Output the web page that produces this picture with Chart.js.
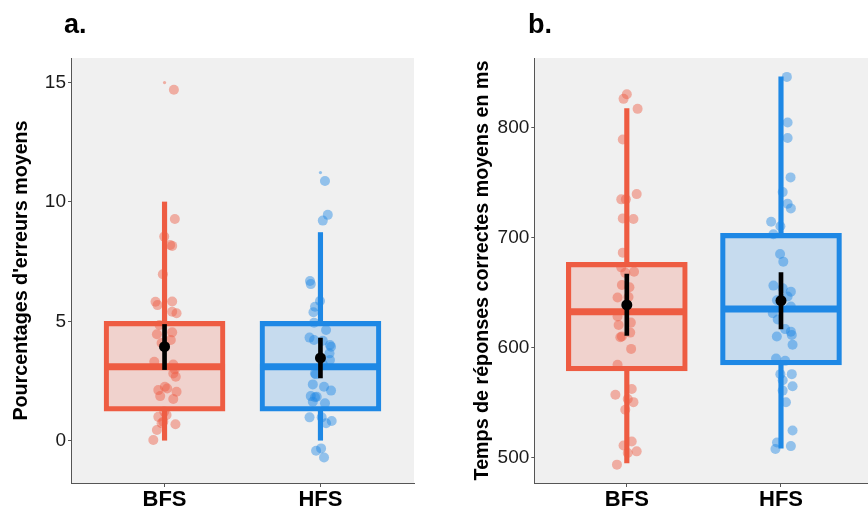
<!DOCTYPE html>
<html><head><meta charset="utf-8">
<script src="https://cdn.jsdelivr.net/npm/chart.js@4.4.1/dist/chart.umd.min.js"></script>
<style>
html,body{margin:0;padding:0;width:868px;height:508px;overflow:hidden;background:#fff;font-family:"Liberation Sans",Arial,sans-serif}
#wa{position:absolute;left:0;top:0;width:430px;height:508px}
#wb{position:absolute;left:430px;top:0;width:449px;height:508px}
.lab{position:absolute;font-weight:bold;font-size:27px;line-height:27px;color:#000}
</style></head><body>
<div id="wa"><canvas id="ca" width="430" height="508"></canvas></div>
<div id="wb"><canvas id="cb" width="449" height="508"></canvas></div>
<div class="lab" style="left:64px;top:11px">a.</div>
<div class="lab" style="left:528px;top:11px">b.</div>
<script>
// ---------- data ----------
const categories = ['BFS', 'HFS'];

// Panel a: Pourcentages d'erreurs moyens
const errTicks = [0, 5, 10, 15];
const errQ1 = [1.24, 1.24];
const errMedian = [3.1, 3.1];
const errQ3 = [5.0, 5.0];
const errWhiskerLow = [0, 0];
const errWhiskerHigh = [10.0, 8.72];
const errMean = [3.94, 3.47];
const errMeanLow = [2.98, 2.63];
const errMeanHigh = [4.87, 4.3];
const errOutliers = [15.0, 11.23];
const errBfs = [14.7,9.29,8.55,8.16,8.2,6.97,5.82,5.68,5.83,5.4,5.34,4.85,4.46,4.54,4.22,4.09,3.31,3.19,2.99,2.82,2.68,2.12,2.26,2.19,2.05,1.87,1.75,1.22,1.08,1.0,0.8,0.73,0.69,0.45,0.03];
const errBfsJitter = [0.060,0.066,-0.002,0.049,0.036,-0.011,-0.058,-0.045,0.049,0.049,0.077,-0.032,-0.049,0.049,0.040,-0.019,-0.066,0.056,0.066,0.056,0.072,-0.040,0.002,0.017,0.077,-0.028,0.056,-0.002,0.013,-0.040,-0.008,-0.019,0.070,-0.049,-0.072];
const errHfs = [10.88,9.46,9.22,6.69,6.56,5.85,5.61,5.38,4.94,4.64,4.32,4.22,4.19,4.01,3.94,3.66,3.38,3.2,2.82,2.78,2.36,2.26,2.1,1.87,1.84,1.82,1.63,1.57,0.98,0.98,0.73,0.83,-0.42,-0.32,-0.7];
const errHfsJitter = [0.029,0.047,0.015,-0.067,-0.062,-0.003,-0.035,-0.045,-0.041,0.036,-0.070,-0.041,0.015,0.061,0.068,0.058,0.061,0.015,-0.035,-0.030,-0.049,0.023,0.068,-0.062,-0.024,-0.035,-0.049,0.029,-0.070,0.008,0.036,0.072,-0.028,0.004,0.023];

// Panel b: Temps de réponses correctes moyens en ms
const rtTicks = [500, 600, 700, 800];
const rtQ1 = [578.8, 584.3];
const rtMedian = [632.7, 635.0];
const rtQ3 = [677.6, 704.0];
const rtWhiskerLow = [494.9, 508.5];
const rtWhiskerHigh = [817.6, 846.4];
const rtMean = [638.8, 642.7];
const rtMeanLow = [611.0, 617.0];
const rtMeanHigh = [667.0, 668.2];
const rtOutliers = [];
const rtBfs = [830.6,826.4,817.3,789.4,739.7,734.9,734.9,717.6,717,686.4,673,669,668,657,654.9,646,645.5,628.2,620.6,622.7,613.6,609.4,610,598.8,584.3,562.2,557,553.1,550.3,543.4,514.5,510.9,505.5,504,493.4];
const rtBfsJitter = [0,-0.021,0.070,-0.026,0.064,-0.036,-0.006,-0.026,0.043,-0.026,-0.036,0.047,-0.010,-0.032,0.017,0.011,-0.060,-0.060,-0.053,0.026,0.022,-0.042,-0.032,0.028,-0.060,0.032,-0.074,0.006,0.043,-0.010,0.032,-0.021,0.064,0.006,-0.064];
const rtHfs = [846.4,804.9,790.8,754.9,741.5,731,726.7,714.5,710.5,703.2,685.2,678.2,656.4,654,650.9,646.4,643,637.3,631.3,625.5,616.8,614.5,611.5,610,602.5,590,587.9,575.8,575.8,570.3,564.8,560.8,550.2,524.5,513.5,510.3,507.7];
const rtHfsJitter = [0.038,0.043,0.043,0.062,0.011,0.043,0.064,-0.064,-0.004,-0.049,-0.006,0.015,-0.049,0.011,0.064,0.043,-0.026,0.064,-0.053,-0.021,0.027,0.064,0.070,-0.027,0.075,-0.032,0.027,-0.004,0.070,0.011,0.075,0.011,0.032,0.075,-0.026,0.064,-0.036];

// ---------- style ----------
const FAMILY = '"Liberation Sans", Arial, sans-serif';
const COLORS = [[238, 92, 66], [30, 136, 229]];
const rgba = (c, a) => `rgba(${c[0]},${c[1]},${c[2]},${a})`;
const AXIS = '#555';

const panelBg = {
  id: 'panelBg',
  beforeDraw(chart) {
    const {ctx, chartArea: a} = chart;
    ctx.save();
    ctx.fillStyle = '#F0F0F0';
    ctx.fillRect(a.left, a.top, a.right - a.left, a.bottom - a.top);
    ctx.restore();
  }
};

function makePanel(id, p) {
  const ds = [];
  const cols = [0, 1];
  // jittered points
  p.points.forEach((vals, i) => {
    ds.push({
      type: 'scatter', order: 6,
      data: vals.map((v, k) => ({x: i + 1 + p.jitter[i][k], y: v})),
      pointRadius: 5, pointHoverRadius: 5, pointBorderWidth: 0,
      pointBackgroundColor: rgba(COLORS[i], 0.45)
    });
  });
  // outliers (small)
  p.outliers.forEach((v, i) => {
    ds.push({
      type: 'scatter', order: 6,
      data: [{x: i + 1, y: v}],
      pointRadius: 1.6, pointHoverRadius: 1.6, pointBorderWidth: 0,
      pointBackgroundColor: rgba(COLORS[i], 0.45)
    });
  });
  // whiskers
  ds.push({
    type: 'bar', order: 5, grouped: false, barThickness: 4.5,
    data: cols.map(i => ({x: i + 1, y: [p.q3[i], p.hi[i]]})),
    backgroundColor: cols.map(i => rgba(COLORS[i], 1))
  });
  ds.push({
    type: 'bar', order: 5, grouped: false, barThickness: 4.5,
    data: cols.map(i => ({x: i + 1, y: [p.lo[i], p.q1[i]]})),
    backgroundColor: cols.map(i => rgba(COLORS[i], 1))
  });
  // boxes
  ds.push({
    type: 'bar', order: 4, grouped: false, barThickness: 121,
    data: cols.map(i => ({x: i + 1, y: [p.q1[i], p.q3[i]]})),
    backgroundColor: cols.map(i => rgba(COLORS[i], 0.2)),
    borderColor: cols.map(i => rgba(COLORS[i], 1)),
    borderWidth: 4.5, borderSkipped: false
  });
  // medians
  cols.forEach(i => {
    ds.push({
      type: 'line', order: 3,
      data: [{x: i + 1 - 0.388, y: p.med[i]}, {x: i + 1 + 0.388, y: p.med[i]}],
      borderColor: rgba(COLORS[i], 1), borderWidth: 7, pointRadius: 0, pointHoverRadius: 0
    });
  });
  // mean error bars
  ds.push({
    type: 'bar', order: 2, grouped: false, barThickness: 4,
    data: cols.map(i => ({x: i + 1, y: [p.meanLo[i], p.meanHi[i]]})),
    backgroundColor: '#000'
  });
  ds.push({
    type: 'scatter', order: 1,
    data: cols.map(i => ({x: i + 1, y: p.mean[i]})),
    pointRadius: 5.5, pointHoverRadius: 5.5, pointBorderWidth: 0, pointBackgroundColor: '#000'
  });

  return new Chart(document.getElementById(id), {
    type: 'scatter',
    data: {datasets: ds},
    plugins: [panelBg],
    options: {
      responsive: false, animation: false, devicePixelRatio: 1,
      layout: {padding: p.padding},
      plugins: {legend: {display: false}, tooltip: {enabled: false}},
      scales: {
        x: {
          type: 'linear', min: 0.4, max: 2.6, offset: false,
          grid: {display: true, drawOnChartArea: false, drawTicks: true, tickLength: 4, color: AXIS, offset: false},
          border: {display: true, color: AXIS, width: 1},
          afterBuildTicks: s => { s.ticks = categories.map((c, i) => ({value: i + 1})); },
          afterFit: s => { s.height = 25; },
          ticks: {
            autoSkip: false, maxRotation: 0, padding: 0, color: '#000',
            font: {family: FAMILY, size: 22, weight: 'bold'},
            callback: v => categories[v - 1]
          }
        },
        y: {
          type: 'linear', min: p.min, max: p.max,
          grid: {display: true, drawOnChartArea: false, drawTicks: true, tickLength: 3, color: AXIS},
          border: {display: true, color: AXIS, width: 1},
          afterBuildTicks: s => { s.ticks = p.ticks.map(v => ({value: v})); },
          afterFit: s => { s.width = p.axisWidth; },
          ticks: {padding: 2, color: '#1a1a1a', font: {family: FAMILY, size: 19}},
          title: {
            display: true, text: p.title, color: '#000', padding: {top: p.titleInset, bottom: 0},
            font: {family: FAMILY, size: 19.7, weight: 'bold'}
          }
        }
      }
    }
  });
}

makePanel('ca', {
  points: [errBfs, errHfs], jitter: [errBfsJitter, errHfsJitter], outliers: errOutliers,
  q1: errQ1, med: errMedian, q3: errQ3, lo: errWhiskerLow, hi: errWhiskerHigh,
  mean: errMean, meanLo: errMeanLow, meanHi: errMeanHigh,
  min: -1.77, max: 16.03, ticks: errTicks, title: "Pourcentages d'erreurs moyens",
  axisWidth: 71, titleInset: 9.5, padding: {top: 58, right: 16, bottom: 0, left: 0}
});
makePanel('cb', {
  points: [rtBfs, rtHfs], jitter: [rtBfsJitter, rtHfsJitter], outliers: rtOutliers,
  q1: rtQ1, med: rtMedian, q3: rtQ3, lo: rtWhiskerLow, hi: rtWhiskerHigh,
  mean: rtMean, meanLo: rtMeanLow, meanHi: rtMeanHigh,
  min: 476.7, max: 863.6, ticks: rtTicks, title: 'Temps de réponses correctes moyens en ms',
  axisWidth: 104.3, titleInset: 40.5, padding: {top: 58, right: 0, bottom: 0, left: 0}
});
</script>
</body></html>
